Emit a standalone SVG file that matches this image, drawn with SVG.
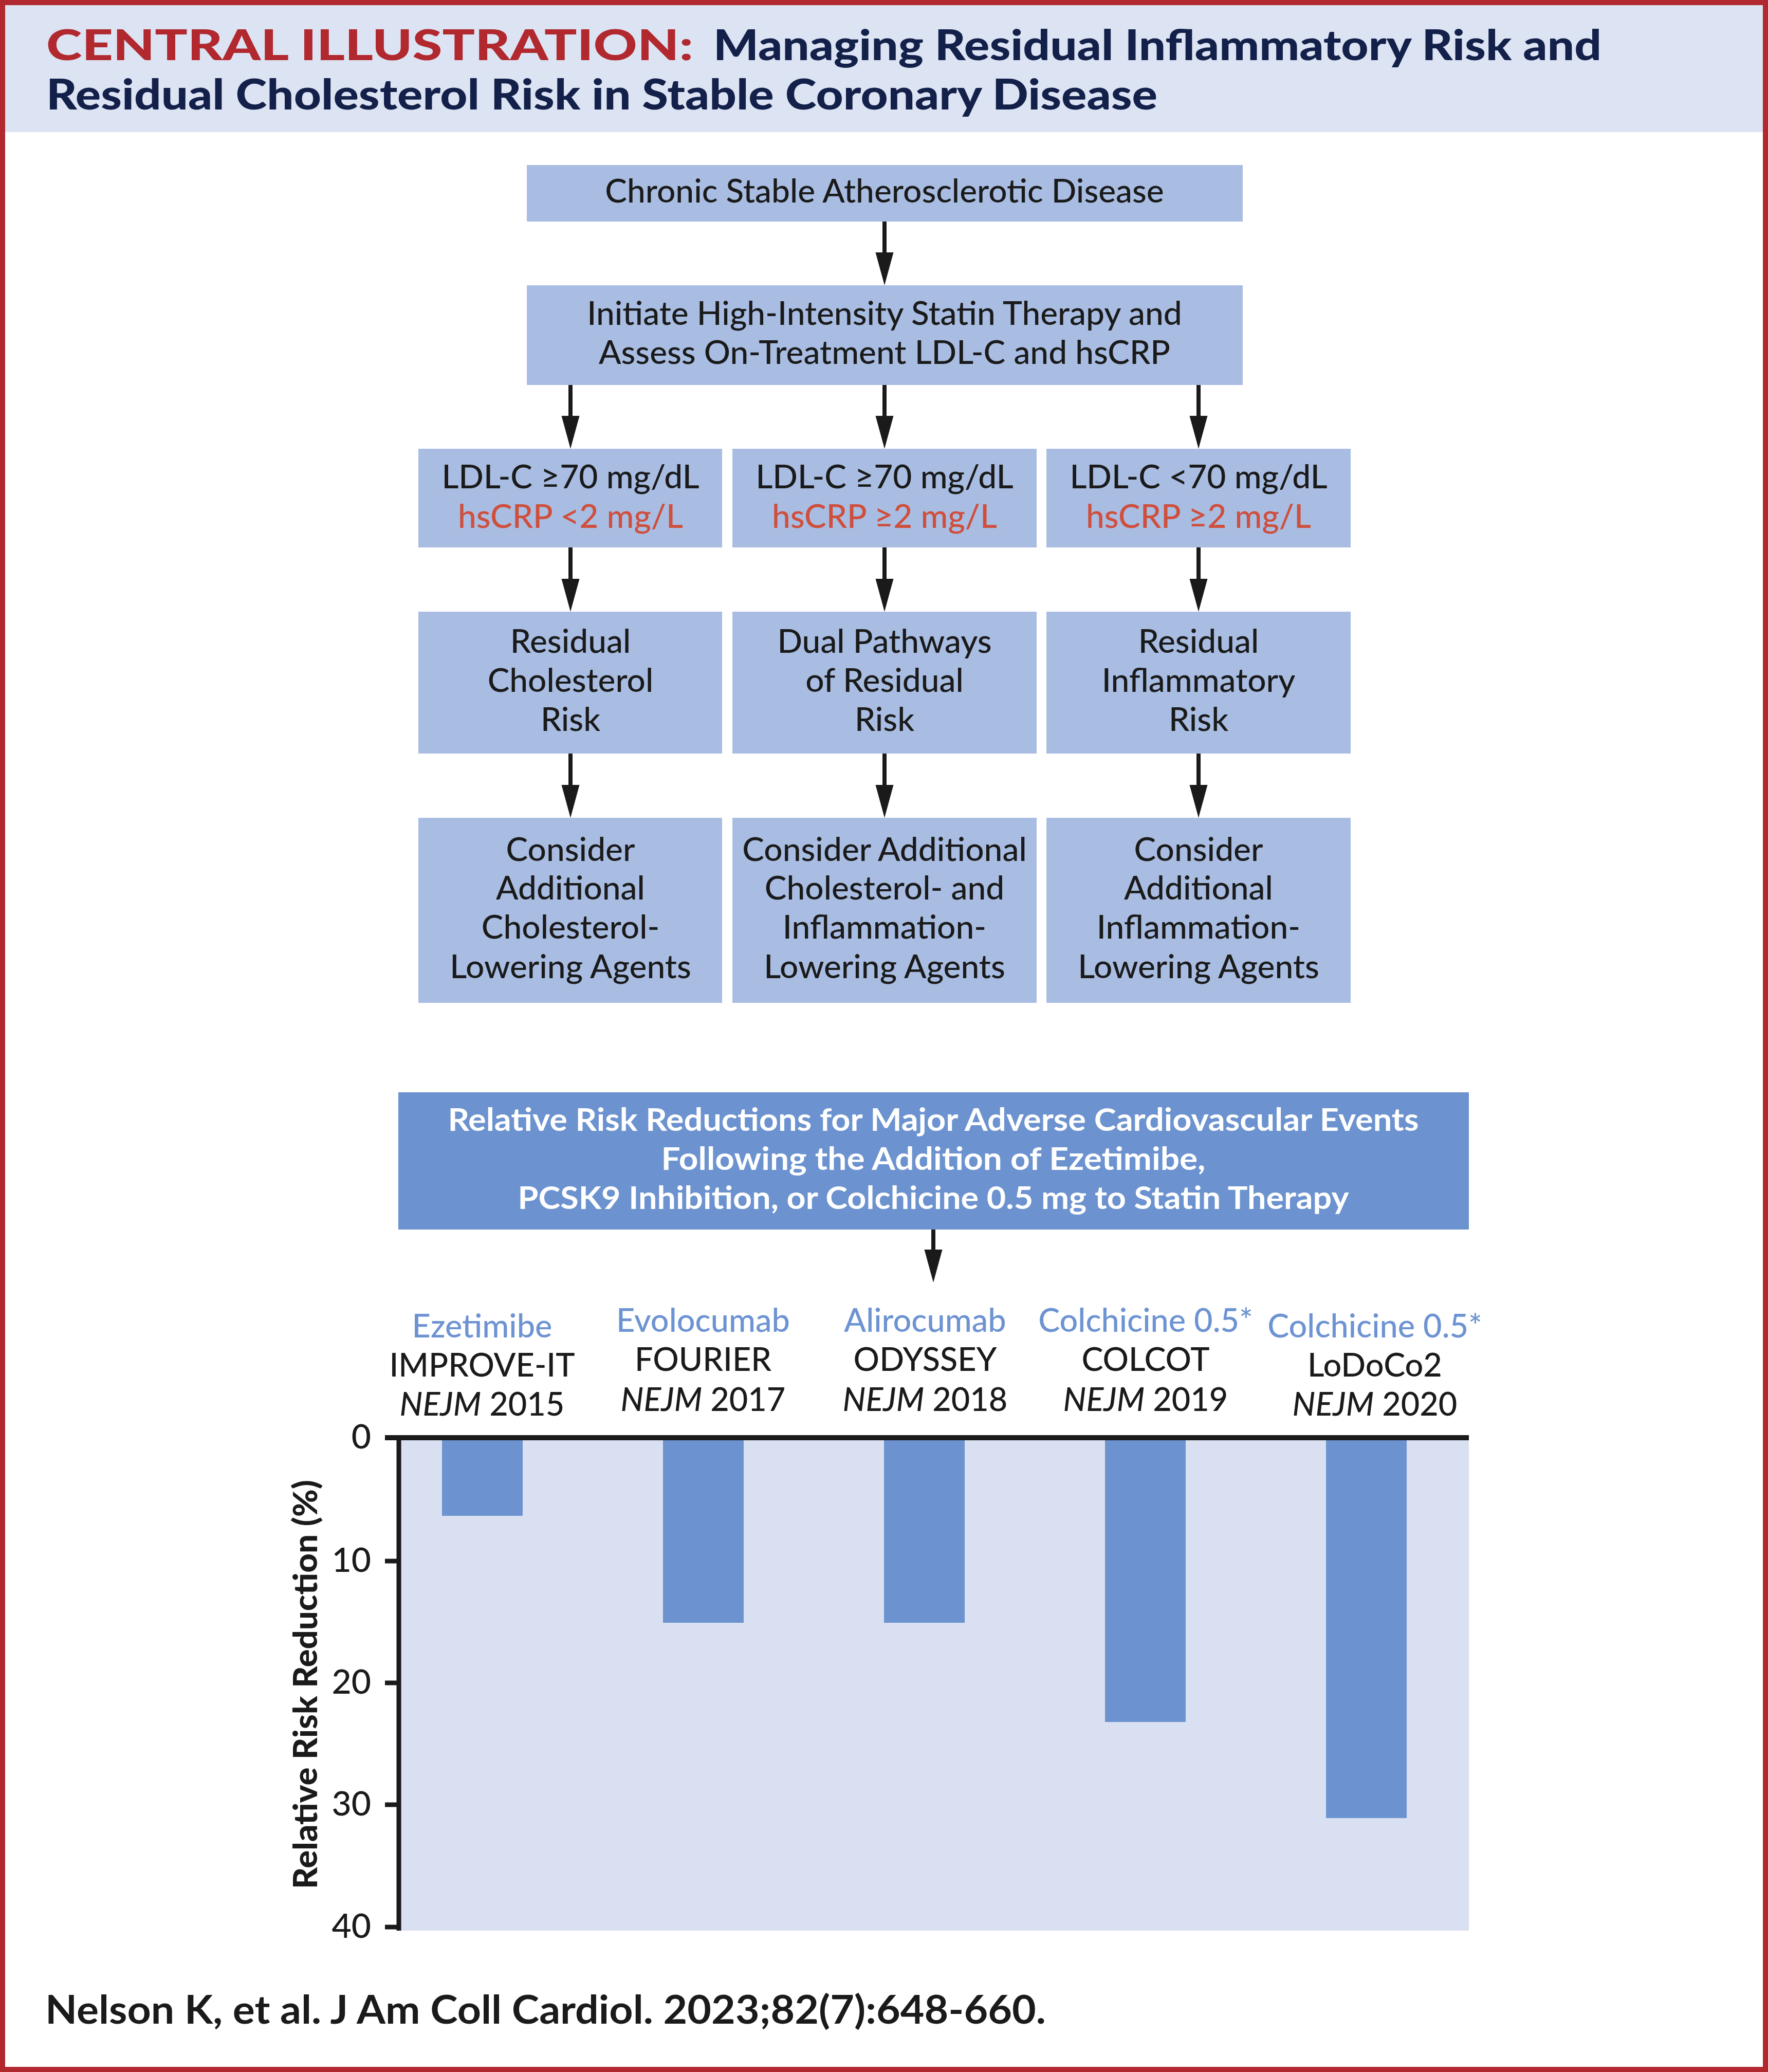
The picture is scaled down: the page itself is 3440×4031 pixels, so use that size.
<svg xmlns="http://www.w3.org/2000/svg" width="3440" height="4031" viewBox="0 0 3440 4031">
<style>
.box{fill:#a9bde3}
.bt{font-family:Lato,"Noto Sans",sans-serif;font-size:64px;font-weight:500;fill:#1a1a1a;text-anchor:middle}
.red{fill:#cf4f3c}
.wt{font-family:Lato,"Noto Sans",sans-serif;font-size:61px;font-weight:bold;fill:#ffffff;text-anchor:middle}
.cl{font-family:Lato,"Noto Sans",sans-serif;font-size:63px;font-weight:500;fill:#1a1a1a;text-anchor:middle}
.drug{fill:#6d93d2}
.tick{font-family:Lato,"Noto Sans",sans-serif;font-size:66px;font-weight:500;fill:#1a1a1a;text-anchor:end}
.conn line{stroke:#1a1a1a;stroke-width:8;marker-end:url(#ah)}
</style>
<defs>
<marker id="ah" markerUnits="userSpaceOnUse" markerWidth="64" markerHeight="36" viewBox="0 -18 64 36" refX="0" refY="0" orient="auto">
<path d="M0,-17.5 L64,0 L0,17.5 Z" fill="#1a1a1a"/>
</marker>
</defs>
<rect x="0" y="0" width="3440" height="4031" fill="#ffffff"/>
<rect x="10" y="10" width="3420" height="247" fill="#dce3f3"/>
<rect x="5" y="5" width="3430" height="4021" fill="none" stroke="#b1282e" stroke-width="10"/>
<g id="title" font-family="Lato,'Noto Sans',sans-serif" font-weight="900" font-size="82">
<text x="90" y="117" fill="#b1282e" textLength="1259" lengthAdjust="spacingAndGlyphs">CENTRAL ILLUSTRATION:</text>
<text x="1388" y="117" fill="#13204a" textLength="1728" lengthAdjust="spacingAndGlyphs">Managing Residual Inflammatory Risk and</text>
<text x="90" y="213" fill="#13204a" textLength="2162" lengthAdjust="spacingAndGlyphs">Residual Cholesterol Risk in Stable Coronary Disease</text>
</g>
<g class="conn" id="connectors">
<line x1="1721" y1="431" x2="1721" y2="491"/>
<line x1="1110" y1="749" x2="1110" y2="809"/>
<line x1="1721" y1="749" x2="1721" y2="809"/>
<line x1="2332" y1="749" x2="2332" y2="809"/>
<line x1="1110" y1="1065" x2="1110" y2="1126"/>
<line x1="1721" y1="1065" x2="1721" y2="1126"/>
<line x1="2332" y1="1065" x2="2332" y2="1126"/>
<line x1="1110" y1="1466" x2="1110" y2="1527"/>
<line x1="1721" y1="1466" x2="1721" y2="1527"/>
<line x1="2332" y1="1466" x2="2332" y2="1527"/>
<line x1="1816" y1="2392" x2="1816" y2="2431"/>
</g>
<g id="n-chronic">
<rect class="box" x="1025" y="321" width="1393" height="110"/>
<text class="bt" x="1721" y="394">Chronic Stable Atherosclerotic Disease</text>
</g>
<g id="n-initiate">
<rect class="box" x="1025" y="555" width="1393" height="194"/>
<text class="bt" x="1721" y="632">Initiate High-Intensity Statin Therapy and</text>
<text class="bt" x="1721" y="708">Assess On-Treatment LDL-C and hsCRP</text>
</g>
<g id="n-ldl1">
<rect class="box" x="814" y="873" width="591" height="192"/>
<text class="bt" x="1110" y="950">LDL-C ≥70 mg/dL</text>
<text class="bt red" x="1110" y="1027">hsCRP &lt;2 mg/L</text>
</g>
<g id="n-ldl2">
<rect class="box" x="1425" y="873" width="592" height="192"/>
<text class="bt" x="1721" y="950">LDL-C ≥70 mg/dL</text>
<text class="bt red" x="1721" y="1027">hsCRP ≥2 mg/L</text>
</g>
<g id="n-ldl3">
<rect class="box" x="2036" y="873" width="592" height="192"/>
<text class="bt" x="2332" y="950">LDL-C &lt;70 mg/dL</text>
<text class="bt red" x="2332" y="1027">hsCRP ≥2 mg/L</text>
</g>
<g id="n-rcr">
<rect class="box" x="814" y="1190" width="591" height="276"/>
<text class="bt" x="1110" y="1270">Residual</text>
<text class="bt" x="1110" y="1346">Cholesterol</text>
<text class="bt" x="1110" y="1422">Risk</text>
</g>
<g id="n-dual">
<rect class="box" x="1425" y="1190" width="592" height="276"/>
<text class="bt" x="1721" y="1270">Dual Pathways</text>
<text class="bt" x="1721" y="1346">of Residual</text>
<text class="bt" x="1721" y="1422">Risk</text>
</g>
<g id="n-rir">
<rect class="box" x="2036" y="1190" width="592" height="276"/>
<text class="bt" x="2332" y="1270">Residual</text>
<text class="bt" x="2332" y="1346">Inflammatory</text>
<text class="bt" x="2332" y="1422">Risk</text>
</g>
<g id="n-chol-agents">
<rect class="box" x="814" y="1591" width="591" height="360"/>
<text class="bt" x="1110" y="1675">Consider</text>
<text class="bt" x="1110" y="1750">Additional</text>
<text class="bt" x="1110" y="1826">Cholesterol-</text>
<text class="bt" x="1110" y="1903">Lowering Agents</text>
</g>
<g id="n-both-agents">
<rect class="box" x="1425" y="1591" width="592" height="360"/>
<text class="bt" x="1721" y="1675">Consider Additional</text>
<text class="bt" x="1721" y="1750">Cholesterol- and</text>
<text class="bt" x="1721" y="1826">Inflammation-</text>
<text class="bt" x="1721" y="1903">Lowering Agents</text>
</g>
<g id="n-infl-agents">
<rect class="box" x="2036" y="1591" width="592" height="360"/>
<text class="bt" x="2332" y="1675">Consider</text>
<text class="bt" x="2332" y="1750">Additional</text>
<text class="bt" x="2332" y="1826">Inflammation-</text>
<text class="bt" x="2332" y="1903">Lowering Agents</text>
</g>
<g id="n-rrr">
<rect x="775" y="2125" width="2083" height="267" fill="#6c93cf"/>
<text class="wt" x="1816" y="2200" textLength="1889" lengthAdjust="spacingAndGlyphs">Relative Risk Reductions for Major Adverse Cardiovascular Events</text>
<text class="wt" x="1816" y="2276" textLength="1059" lengthAdjust="spacingAndGlyphs">Following the Addition of Ezetimibe,</text>
<text class="wt" x="1816" y="2352" textLength="1617" lengthAdjust="spacingAndGlyphs">PCSK9 Inhibition, or Colchicine 0.5 mg to Statin Therapy</text>
</g>
<g id="chart">
<rect x="776" y="2797" width="2082" height="959" fill="#d9e0f1"/>
<rect x="860" y="2797" width="157" height="152" fill="#6c93cf"/>
<rect x="1290" y="2797" width="157" height="360" fill="#6c93cf"/>
<rect x="1720" y="2797" width="157" height="360" fill="#6c93cf"/>
<rect x="2150" y="2797" width="157" height="553" fill="#6c93cf"/>
<rect x="2580" y="2797" width="157" height="740" fill="#6c93cf"/>
<g stroke="#1a1a1a" fill="none">
<line x1="776" y1="2793" x2="776" y2="3756" stroke-width="9"/>
<line x1="749" y1="2797" x2="2858" y2="2797" stroke-width="10"/>
<line x1="749" y1="3037" x2="776" y2="3037" stroke-width="9"/>
<line x1="749" y1="3274" x2="776" y2="3274" stroke-width="9"/>
<line x1="749" y1="3511" x2="776" y2="3511" stroke-width="9"/>
<line x1="749" y1="3749" x2="776" y2="3749" stroke-width="9"/>
</g>
<text class="tick" x="722" y="2818">0</text>
<text class="tick" x="722" y="3058">10</text>
<text class="tick" x="722" y="3295">20</text>
<text class="tick" x="722" y="3532">30</text>
<text class="tick" x="722" y="3770">40</text>
<text transform="translate(617,3277) rotate(-90)" text-anchor="middle" font-family="Lato,'Noto Sans',sans-serif" font-weight="900" font-size="64" fill="#1a1a1a" textLength="796" lengthAdjust="spacingAndGlyphs">Relative Risk Reduction (%)</text>
</g>
<g id="lab-1">
<text class="cl drug" x="938" y="2602">Ezetimibe</text>
<text class="cl" x="938" y="2678">IMPROVE-IT</text>
<text class="cl" x="938" y="2754"><tspan font-style="italic">NEJM</tspan> 2015</text>
</g>
<g id="lab-2">
<text class="cl drug" x="1368" y="2591">Evolocumab</text>
<text class="cl" x="1368" y="2667">FOURIER</text>
<text class="cl" x="1368" y="2745"><tspan font-style="italic">NEJM</tspan> 2017</text>
</g>
<g id="lab-3">
<text class="cl drug" x="1800" y="2591">Alirocumab</text>
<text class="cl" x="1800" y="2667">ODYSSEY</text>
<text class="cl" x="1800" y="2745"><tspan font-style="italic">NEJM</tspan> 2018</text>
</g>
<g id="lab-4">
<text class="cl drug" x="2229" y="2591">Colchicine 0.5*</text>
<text class="cl" x="2229" y="2667">COLCOT</text>
<text class="cl" x="2229" y="2745"><tspan font-style="italic">NEJM</tspan> 2019</text>
</g>
<g id="lab-5">
<text class="cl drug" x="2675" y="2602">Colchicine 0.5*</text>
<text class="cl" x="2675" y="2678">LoDoCo2</text>
<text class="cl" x="2675" y="2754"><tspan font-style="italic">NEJM</tspan> 2020</text>
</g>
<text id="citation" x="88" y="3937" font-family="Lato,'Noto Sans',sans-serif" font-weight="bold" font-size="76" fill="#1a1a1a" textLength="1947" lengthAdjust="spacingAndGlyphs">Nelson K, et al. J Am Coll Cardiol. 2023;82(7):648-660.</text>
</svg>
